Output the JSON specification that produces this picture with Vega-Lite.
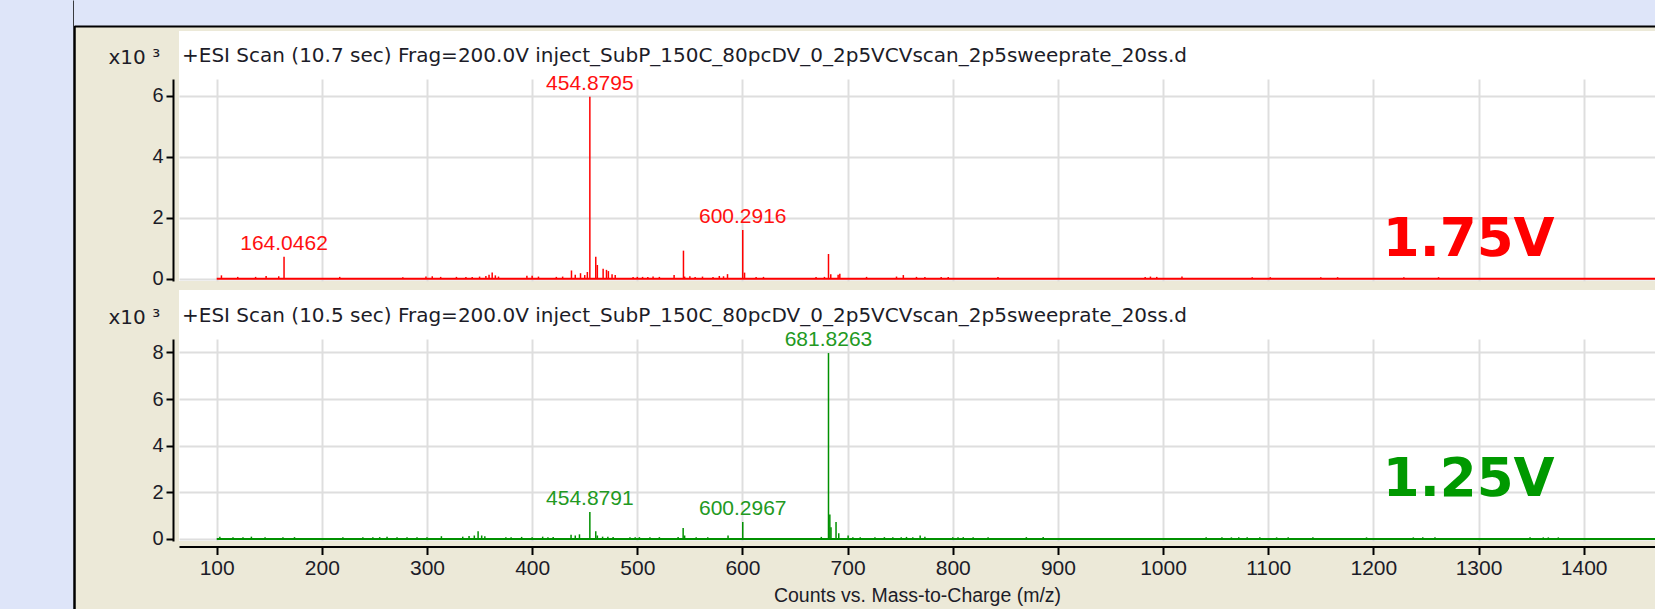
{
  "$schema": "https://vega.github.io/schema/vega-lite/v6.json",
  "background": "#ECE9D8",
  "padding": 0,
  "config": {
    "view": {"stroke": null},
    "font": "Liberation Sans",
    "axis": {"labelFont": "Liberation Sans", "titleFont": "Liberation Sans"},
    "title": {"font": "Liberation Sans", "fontWeight": "normal"}
  },
  "datasets": {
    "peaks": [
      {"scan": "10.7 sec", "mz": 104.5, "intensity": 110},
      {"scan": "10.7 sec", "mz": 120, "intensity": 60},
      {"scan": "10.7 sec", "mz": 137, "intensity": 60},
      {"scan": "10.7 sec", "mz": 147, "intensity": 90},
      {"scan": "10.7 sec", "mz": 159, "intensity": 80},
      {"scan": "10.7 sec", "mz": 164.0462, "intensity": 720},
      {"scan": "10.7 sec", "mz": 217, "intensity": 60},
      {"scan": "10.7 sec", "mz": 277, "intensity": 50},
      {"scan": "10.7 sec", "mz": 299, "intensity": 70},
      {"scan": "10.7 sec", "mz": 305, "intensity": 80},
      {"scan": "10.7 sec", "mz": 313, "intensity": 60},
      {"scan": "10.7 sec", "mz": 328, "intensity": 60},
      {"scan": "10.7 sec", "mz": 337, "intensity": 60},
      {"scan": "10.7 sec", "mz": 343, "intensity": 60},
      {"scan": "10.7 sec", "mz": 350, "intensity": 70},
      {"scan": "10.7 sec", "mz": 356, "intensity": 90},
      {"scan": "10.7 sec", "mz": 359, "intensity": 130},
      {"scan": "10.7 sec", "mz": 362, "intensity": 200},
      {"scan": "10.7 sec", "mz": 365, "intensity": 110},
      {"scan": "10.7 sec", "mz": 368, "intensity": 70},
      {"scan": "10.7 sec", "mz": 395, "intensity": 100},
      {"scan": "10.7 sec", "mz": 400, "intensity": 100},
      {"scan": "10.7 sec", "mz": 406, "intensity": 70},
      {"scan": "10.7 sec", "mz": 423, "intensity": 60},
      {"scan": "10.7 sec", "mz": 429, "intensity": 70},
      {"scan": "10.7 sec", "mz": 437.4, "intensity": 270},
      {"scan": "10.7 sec", "mz": 441, "intensity": 130},
      {"scan": "10.7 sec", "mz": 446, "intensity": 180},
      {"scan": "10.7 sec", "mz": 450, "intensity": 120},
      {"scan": "10.7 sec", "mz": 452.5, "intensity": 220},
      {"scan": "10.7 sec", "mz": 454.8795, "intensity": 5970},
      {"scan": "10.7 sec", "mz": 460.5, "intensity": 720},
      {"scan": "10.7 sec", "mz": 462, "intensity": 450},
      {"scan": "10.7 sec", "mz": 467.5, "intensity": 330},
      {"scan": "10.7 sec", "mz": 470.7, "intensity": 290},
      {"scan": "10.7 sec", "mz": 472.5, "intensity": 250},
      {"scan": "10.7 sec", "mz": 476, "intensity": 150},
      {"scan": "10.7 sec", "mz": 479, "intensity": 120},
      {"scan": "10.7 sec", "mz": 496, "intensity": 60},
      {"scan": "10.7 sec", "mz": 500, "intensity": 60},
      {"scan": "10.7 sec", "mz": 505, "intensity": 60},
      {"scan": "10.7 sec", "mz": 510, "intensity": 60},
      {"scan": "10.7 sec", "mz": 515, "intensity": 70},
      {"scan": "10.7 sec", "mz": 521, "intensity": 60},
      {"scan": "10.7 sec", "mz": 535, "intensity": 120},
      {"scan": "10.7 sec", "mz": 543.9, "intensity": 920},
      {"scan": "10.7 sec", "mz": 545, "intensity": 70},
      {"scan": "10.7 sec", "mz": 550, "intensity": 80},
      {"scan": "10.7 sec", "mz": 555, "intensity": 60},
      {"scan": "10.7 sec", "mz": 562, "intensity": 70},
      {"scan": "10.7 sec", "mz": 572, "intensity": 60},
      {"scan": "10.7 sec", "mz": 578, "intensity": 90},
      {"scan": "10.7 sec", "mz": 582, "intensity": 80},
      {"scan": "10.7 sec", "mz": 585.8, "intensity": 150},
      {"scan": "10.7 sec", "mz": 600.2916, "intensity": 1600},
      {"scan": "10.7 sec", "mz": 602, "intensity": 200},
      {"scan": "10.7 sec", "mz": 613, "intensity": 60},
      {"scan": "10.7 sec", "mz": 620, "intensity": 60},
      {"scan": "10.7 sec", "mz": 670, "intensity": 60},
      {"scan": "10.7 sec", "mz": 678, "intensity": 60},
      {"scan": "10.7 sec", "mz": 681.83, "intensity": 810},
      {"scan": "10.7 sec", "mz": 684, "intensity": 150},
      {"scan": "10.7 sec", "mz": 691, "intensity": 130},
      {"scan": "10.7 sec", "mz": 692.6, "intensity": 160},
      {"scan": "10.7 sec", "mz": 718, "intensity": 60},
      {"scan": "10.7 sec", "mz": 746.5, "intensity": 70},
      {"scan": "10.7 sec", "mz": 753, "intensity": 120},
      {"scan": "10.7 sec", "mz": 765.5, "intensity": 60},
      {"scan": "10.7 sec", "mz": 773.5, "intensity": 60},
      {"scan": "10.7 sec", "mz": 789, "intensity": 60},
      {"scan": "10.7 sec", "mz": 795.7, "intensity": 60},
      {"scan": "10.7 sec", "mz": 843, "intensity": 60},
      {"scan": "10.7 sec", "mz": 983, "intensity": 60},
      {"scan": "10.7 sec", "mz": 988, "intensity": 70},
      {"scan": "10.7 sec", "mz": 994, "intensity": 60},
      {"scan": "10.7 sec", "mz": 1018, "intensity": 70},
      {"scan": "10.7 sec", "mz": 1084.8, "intensity": 50},
      {"scan": "10.7 sec", "mz": 1102, "intensity": 50},
      {"scan": "10.7 sec", "mz": 1150, "intensity": 50},
      {"scan": "10.7 sec", "mz": 1166, "intensity": 50},
      {"scan": "10.7 sec", "mz": 1229, "intensity": 50},
      {"scan": "10.7 sec", "mz": 1262, "intensity": 50},
      {"scan": "10.5 sec", "mz": 103, "intensity": 100},
      {"scan": "10.5 sec", "mz": 115.5, "intensity": 80},
      {"scan": "10.5 sec", "mz": 125, "intensity": 80},
      {"scan": "10.5 sec", "mz": 133, "intensity": 100},
      {"scan": "10.5 sec", "mz": 146, "intensity": 80},
      {"scan": "10.5 sec", "mz": 163, "intensity": 80},
      {"scan": "10.5 sec", "mz": 174, "intensity": 80},
      {"scan": "10.5 sec", "mz": 220, "intensity": 80},
      {"scan": "10.5 sec", "mz": 239, "intensity": 80},
      {"scan": "10.5 sec", "mz": 248.5, "intensity": 80},
      {"scan": "10.5 sec", "mz": 255, "intensity": 80},
      {"scan": "10.5 sec", "mz": 262, "intensity": 100},
      {"scan": "10.5 sec", "mz": 271.5, "intensity": 80},
      {"scan": "10.5 sec", "mz": 281, "intensity": 80},
      {"scan": "10.5 sec", "mz": 290.5, "intensity": 80},
      {"scan": "10.5 sec", "mz": 300, "intensity": 80},
      {"scan": "10.5 sec", "mz": 313.7, "intensity": 120},
      {"scan": "10.5 sec", "mz": 334, "intensity": 100},
      {"scan": "10.5 sec", "mz": 340, "intensity": 130},
      {"scan": "10.5 sec", "mz": 345, "intensity": 150},
      {"scan": "10.5 sec", "mz": 348.6, "intensity": 330},
      {"scan": "10.5 sec", "mz": 352, "intensity": 150},
      {"scan": "10.5 sec", "mz": 355, "intensity": 120},
      {"scan": "10.5 sec", "mz": 375, "intensity": 80},
      {"scan": "10.5 sec", "mz": 380, "intensity": 80},
      {"scan": "10.5 sec", "mz": 390, "intensity": 90},
      {"scan": "10.5 sec", "mz": 400, "intensity": 80},
      {"scan": "10.5 sec", "mz": 410, "intensity": 100},
      {"scan": "10.5 sec", "mz": 415, "intensity": 80},
      {"scan": "10.5 sec", "mz": 420, "intensity": 90},
      {"scan": "10.5 sec", "mz": 437, "intensity": 180},
      {"scan": "10.5 sec", "mz": 441, "intensity": 150},
      {"scan": "10.5 sec", "mz": 445, "intensity": 200},
      {"scan": "10.5 sec", "mz": 454.8791, "intensity": 1160},
      {"scan": "10.5 sec", "mz": 460.5, "intensity": 330},
      {"scan": "10.5 sec", "mz": 462, "intensity": 150},
      {"scan": "10.5 sec", "mz": 467, "intensity": 100},
      {"scan": "10.5 sec", "mz": 472, "intensity": 100},
      {"scan": "10.5 sec", "mz": 477, "intensity": 90},
      {"scan": "10.5 sec", "mz": 493, "intensity": 80},
      {"scan": "10.5 sec", "mz": 498, "intensity": 80},
      {"scan": "10.5 sec", "mz": 502, "intensity": 80},
      {"scan": "10.5 sec", "mz": 512, "intensity": 80},
      {"scan": "10.5 sec", "mz": 521, "intensity": 80},
      {"scan": "10.5 sec", "mz": 538.8, "intensity": 90},
      {"scan": "10.5 sec", "mz": 543.6, "intensity": 470},
      {"scan": "10.5 sec", "mz": 545, "intensity": 150},
      {"scan": "10.5 sec", "mz": 556, "intensity": 80},
      {"scan": "10.5 sec", "mz": 567, "intensity": 80},
      {"scan": "10.5 sec", "mz": 586.3, "intensity": 150},
      {"scan": "10.5 sec", "mz": 600.2967, "intensity": 730},
      {"scan": "10.5 sec", "mz": 675, "intensity": 90},
      {"scan": "10.5 sec", "mz": 681.8263, "intensity": 7970},
      {"scan": "10.5 sec", "mz": 683.1, "intensity": 1050},
      {"scan": "10.5 sec", "mz": 684.2, "intensity": 500},
      {"scan": "10.5 sec", "mz": 689, "intensity": 730},
      {"scan": "10.5 sec", "mz": 691.6, "intensity": 250},
      {"scan": "10.5 sec", "mz": 700.5, "intensity": 150},
      {"scan": "10.5 sec", "mz": 705, "intensity": 80},
      {"scan": "10.5 sec", "mz": 712, "intensity": 80},
      {"scan": "10.5 sec", "mz": 726, "intensity": 80},
      {"scan": "10.5 sec", "mz": 735, "intensity": 80},
      {"scan": "10.5 sec", "mz": 743, "intensity": 80},
      {"scan": "10.5 sec", "mz": 751, "intensity": 80},
      {"scan": "10.5 sec", "mz": 756, "intensity": 90},
      {"scan": "10.5 sec", "mz": 762, "intensity": 80},
      {"scan": "10.5 sec", "mz": 769, "intensity": 150},
      {"scan": "10.5 sec", "mz": 773.5, "intensity": 100},
      {"scan": "10.5 sec", "mz": 800, "intensity": 80},
      {"scan": "10.5 sec", "mz": 805, "intensity": 80},
      {"scan": "10.5 sec", "mz": 810, "intensity": 80},
      {"scan": "10.5 sec", "mz": 819.4, "intensity": 80},
      {"scan": "10.5 sec", "mz": 833.6, "intensity": 80},
      {"scan": "10.5 sec", "mz": 870, "intensity": 80},
      {"scan": "10.5 sec", "mz": 886, "intensity": 90},
      {"scan": "10.5 sec", "mz": 1041, "intensity": 80},
      {"scan": "10.5 sec", "mz": 1056, "intensity": 70},
      {"scan": "10.5 sec", "mz": 1065, "intensity": 70},
      {"scan": "10.5 sec", "mz": 1072, "intensity": 70},
      {"scan": "10.5 sec", "mz": 1080, "intensity": 70},
      {"scan": "10.5 sec", "mz": 1092, "intensity": 70},
      {"scan": "10.5 sec", "mz": 1108, "intensity": 70},
      {"scan": "10.5 sec", "mz": 1119, "intensity": 70},
      {"scan": "10.5 sec", "mz": 1142.5, "intensity": 70},
      {"scan": "10.5 sec", "mz": 1193.5, "intensity": 70},
      {"scan": "10.5 sec", "mz": 1238, "intensity": 70},
      {"scan": "10.5 sec", "mz": 1247, "intensity": 70},
      {"scan": "10.5 sec", "mz": 1258.6, "intensity": 70},
      {"scan": "10.5 sec", "mz": 1349, "intensity": 70},
      {"scan": "10.5 sec", "mz": 1361.6, "intensity": 70},
      {"scan": "10.5 sec", "mz": 1366.4, "intensity": 70},
      {"scan": "10.5 sec", "mz": 1375.9, "intensity": 70}
    ],
    "labels": [
      {"scan": "10.7 sec", "mz": 164.0462, "intensity": 720, "label": "164.0462"},
      {"scan": "10.7 sec", "mz": 454.8795, "intensity": 5970, "label": "454.8795"},
      {"scan": "10.7 sec", "mz": 600.2916, "intensity": 1600, "label": "600.2916"},
      {"scan": "10.5 sec", "mz": 454.8791, "intensity": 1160, "label": "454.8791"},
      {"scan": "10.5 sec", "mz": 600.2967, "intensity": 730, "label": "600.2967"},
      {"scan": "10.5 sec", "mz": 681.8263, "intensity": 7970, "label": "681.8263"}
    ]
  },
  "spacing": 0,
  "bounds": "flush",
  "hconcat": [
    {
      "width": 74, "height": 609,
      "view": {"fill": "#DEE5F9"},
      "data": {"values": [{}]},
      "mark": {"type": "point", "opacity": 0},
      "encoding": {
        "y": {"datum": 0, "type": "quantitative", "scale": {"domain": [0, 1]},
          "axis": {"orient": "right", "domain": true, "domainColor": "#000000", "domainWidth": 2.5, "labels": false, "ticks": false, "grid": false, "title": null}}
      }
    },
    {
      "spacing": 5,
      "bounds": "flush",
      "vconcat": [
        {
          "width": 1581, "height": 26,
          "view": {"fill": "#DEE5F9"},
          "data": {"values": [{}]},
          "mark": {"type": "point", "opacity": 0},
          "encoding": {
            "x": {"datum": 0, "type": "quantitative", "scale": {"domain": [0, 1]},
              "axis": {"orient": "bottom", "domain": true, "domainColor": "#000000", "domainWidth": 2, "labels": false, "ticks": false, "grid": false, "title": null}}
          }
        },
        {
          "spacing": 0,
          "bounds": "flush",
          "hconcat": [
            {
              "width": 105, "height": 510,
              "data": {"values": [{}]},
              "mark": {"type": "point", "opacity": 0},
              "encoding": {}
            },
            {
              "spacing": 0,
              "bounds": "flush",
              "vconcat": [
                {
                  "width": 1476, "height": 48,
                  "view": {"fill": "#FFFFFF"},
                  "title": {"text": "+ESI Scan (10.7 sec) Frag=200.0V inject_SubP_150C_80pcDV_0_2p5VCVscan_2p5sweeprate_20ss.d", "orient": "top", "anchor": "start", "frame": "group", "offset": -51, "baseline": "alphabetic", "font": "DejaVu Sans", "fontSize": 20, "color": "#1c1c28", "dx": 3},
                  "data": {"values": [{}]},
                  "mark": {"type": "point", "opacity": 0},
                  "encoding": {}
                },
                {
                  "width": 1476, "height": 202,
                  "view": {"fill": "#FFFFFF"},
                  "layer": [
                    {
                      "data": {"values": [{}]},
                      "mark": {"type": "rule", "color": "#FF0000", "strokeWidth": 2, "clip": true},
                      "encoding": {
                        "x": {"datum": 100, "type": "quantitative"},
                        "x2": {"datum": 1467.85},
                        "y": {"datum": 0, "type": "quantitative"}
                      }
                    },
                    {
                      "data": {"name": "peaks"},
                      "transform": [{"filter": "datum.scan === '10.7 sec'"}],
                      "mark": {"type": "rule", "color": "#FF0000", "strokeWidth": 1.5, "clip": true},
                      "encoding": {
                        "x": {"field": "mz", "type": "quantitative",
                          "scale": {"domain": [64.15, 1467.85], "nice": false, "zero": false},
                          "axis": {"values": [100, 200, 300, 400, 500, 600, 700, 800, 900, 1000, 1100, 1200, 1300, 1400], "grid": true, "gridColor": "#DEDEDE", "gridWidth": 2, "labels": false, "ticks": false, "domain": false, "title": null}},
                        "y": {"field": "intensity", "type": "quantitative",
                          "scale": {"domain": [-75, 6548], "nice": false, "zero": false},
                          "axis": {"values": [0, 2000, 4000, 6000], "labelExpr": "datum.value / 1000", "title": "x10 ³", "titleFont": "DejaVu Sans", "titleAngle": 0, "titleAlign": "left", "titleBaseline": "alphabetic", "titleX": -65, "titleY": -16, "titleFontSize": 20, "titleFontWeight": "normal", "titleColor": "#1c1c28", "offset": 6, "domainColor": "#000000", "domainWidth": 2, "tickColor": "#000000", "tickWidth": 2, "tickSize": 7, "labelFontSize": 20, "labelColor": "#1c1c28", "labelPadding": 3, "grid": true, "gridColor": "#DEDEDE", "gridWidth": 2}},
                        "y2": {"datum": 0}
                      }
                    },
                    {
                      "data": {"name": "labels"},
                      "transform": [{"filter": "datum.scan === '10.7 sec'"}],
                      "mark": {"type": "text", "color": "#FF1010", "fontSize": 21, "align": "center", "baseline": "alphabetic", "dy": -7},
                      "encoding": {
                        "x": {"field": "mz", "type": "quantitative"},
                        "y": {"field": "intensity", "type": "quantitative"},
                        "text": {"field": "label"}
                      }
                    },
                    {
                      "data": {"values": [{}]},
                      "mark": {"type": "text", "color": "#FF0000", "font": "DejaVu Sans", "fontWeight": "bold", "fontSize": 53, "align": "left", "baseline": "alphabetic"},
                      "encoding": {
                        "x": {"datum": 1209, "type": "quantitative"},
                        "y": {"datum": 744, "type": "quantitative"},
                        "text": {"value": "1.75V"}
                      }
                    }
                  ]
                },
                {
                  "width": 1476, "height": 9,
                  "data": {"values": [{}]},
                  "mark": {"type": "point", "opacity": 0},
                  "encoding": {}
                },
                {
                  "width": 1476, "height": 49,
                  "view": {"fill": "#FFFFFF"},
                  "title": {"text": "+ESI Scan (10.5 sec) Frag=200.0V inject_SubP_150C_80pcDV_0_2p5VCVscan_2p5sweeprate_20ss.d", "orient": "top", "anchor": "start", "frame": "group", "offset": -51.5, "baseline": "alphabetic", "font": "DejaVu Sans", "fontSize": 20, "color": "#1c1c28", "dx": 3},
                  "data": {"values": [{}]},
                  "mark": {"type": "point", "opacity": 0},
                  "encoding": {}
                },
                {
                  "width": 1476, "height": 202,
                  "view": {"fill": "#FFFFFF"},
                  "layer": [
                    {
                      "data": {"values": [{}]},
                      "mark": {"type": "rule", "color": "#009000", "strokeWidth": 2, "clip": true},
                      "encoding": {
                        "x": {"datum": 100, "type": "quantitative"},
                        "x2": {"datum": 1467.85},
                        "y": {"datum": 0, "type": "quantitative"}
                      }
                    },
                    {
                      "data": {"name": "peaks"},
                      "transform": [{"filter": "datum.scan === '10.5 sec'"}],
                      "mark": {"type": "rule", "color": "#009000", "strokeWidth": 1.5, "clip": true},
                      "encoding": {
                        "x": {"field": "mz", "type": "quantitative",
                          "scale": {"domain": [64.15, 1467.85], "nice": false, "zero": false},
                          "axis": {"values": [100, 200, 300, 400, 500, 600, 700, 800, 900, 1000, 1100, 1200, 1300, 1400], "format": "d", "grid": true, "gridColor": "#DEDEDE", "gridWidth": 2, "offset": 5.5, "domainColor": "#000000", "domainWidth": 2, "tickColor": "#000000", "tickWidth": 2, "tickSize": 8, "labelFontSize": 21, "labelColor": "#1c1c28", "labelPadding": 3, "title": "Counts vs. Mass-to-Charge (m/z)", "titleFontSize": 19.5, "titleFontWeight": "normal", "titleColor": "#1c1c28", "titleBaseline": "alphabetic", "titleY": 55}},
                        "y": {"field": "intensity", "type": "quantitative",
                          "scale": {"domain": [-86, 8573], "nice": false, "zero": false},
                          "axis": {"values": [0, 2000, 4000, 6000, 8000], "labelExpr": "datum.value / 1000", "title": "x10 ³", "titleFont": "DejaVu Sans", "titleAngle": 0, "titleAlign": "left", "titleBaseline": "alphabetic", "titleX": -65, "titleY": -16, "titleFontSize": 20, "titleFontWeight": "normal", "titleColor": "#1c1c28", "offset": 6, "domainColor": "#000000", "domainWidth": 2, "tickColor": "#000000", "tickWidth": 2, "tickSize": 7, "labelFontSize": 20, "labelColor": "#1c1c28", "labelPadding": 3, "grid": true, "gridColor": "#DEDEDE", "gridWidth": 2}},
                        "y2": {"datum": 0}
                      }
                    },
                    {
                      "data": {"name": "labels"},
                      "transform": [{"filter": "datum.scan === '10.5 sec'"}],
                      "mark": {"type": "text", "color": "#229922", "fontSize": 21, "align": "center", "baseline": "alphabetic", "dy": -7},
                      "encoding": {
                        "x": {"field": "mz", "type": "quantitative"},
                        "y": {"field": "intensity", "type": "quantitative"},
                        "text": {"field": "label"}
                      }
                    },
                    {
                      "data": {"values": [{}]},
                      "mark": {"type": "text", "color": "#009900", "font": "DejaVu Sans", "fontWeight": "bold", "fontSize": 53, "align": "left", "baseline": "alphabetic"},
                      "encoding": {
                        "x": {"datum": 1209, "type": "quantitative"},
                        "y": {"datum": 1843, "type": "quantitative"},
                        "text": {"value": "1.25V"}
                      }
                    }
                  ]
                }
              ]
            }
          ]
        }
      ]
    }
  ]
}
